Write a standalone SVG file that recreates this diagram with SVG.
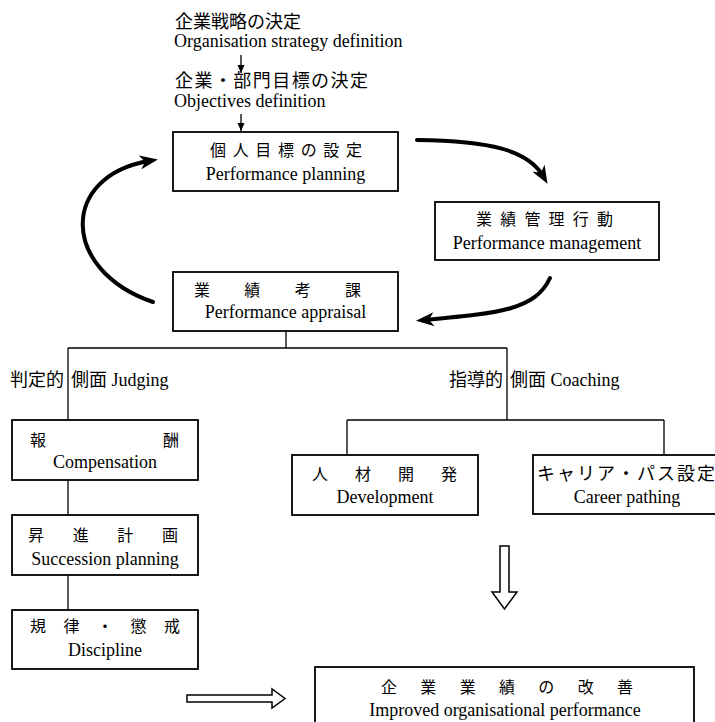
<svg xmlns="http://www.w3.org/2000/svg" width="715" height="722" viewBox="0 0 715 722">
<style>
text{font-family:"Liberation Serif","Noto Sans CJK JP",serif;fill:#000}
.jt{font-size:18px}
.jp{font-size:16px}
.en{font-size:18px}
.mid{text-anchor:middle}
.box{fill:#fff;stroke:#000;stroke-width:1.8}
.ln{fill:none;stroke:#000;stroke-width:1.3}
.thick{fill:none;stroke:#000;stroke-width:4;stroke-linecap:round}
.hollow{fill:#fff;stroke:#000;stroke-width:1.5}
</style>
<defs>
<marker id="big" markerUnits="userSpaceOnUse" markerWidth="18" markerHeight="14" refX="9" refY="7" orient="auto"><path d="M0,0 L18,7 L0,14 L5,7 z" fill="#000"/></marker>
<marker id="small" markerUnits="userSpaceOnUse" markerWidth="8" markerHeight="8" refX="8" refY="3.5" orient="auto"><path d="M0,0 L8,3.5 L0,7 z" fill="#000"/></marker>
</defs>
<rect width="715" height="722" fill="#fff"/>

<g id="connectors">
<path class="ln" d="M241,55 V73" marker-end="url(#small)"/>
<path class="ln" d="M241,114 V131" marker-end="url(#small)"/>
<path class="thick" d="M417,140 C490,141 528,150 543,176" marker-end="url(#big)"/>
<path class="thick" d="M550,278 C535,310 500,313 425,320" marker-end="url(#big)"/>
<path class="thick" d="M153,302 C60,270 60,176 149,161" marker-end="url(#big)"/>
<path class="ln" d="M286,331 V348 M68,348 H507 M68,348 V420 M507,348 V420 M347,420 H664 M347,420 V455 M664,420 V455 M68,480 V515 M68,575 V610"/>
<polygon class="hollow" points="500,546 509,546 509,592 517,592 504.5,609 492,592 500,592"/>
<polygon class="hollow" points="187,695 272,695 272,689 285,698.5 272,708 272,702 187,702"/>
</g>

<g id="n-strategy">
<text class="jt" x="175" y="28">企業戦略の決定</text>
<text class="en" x="174" y="47">Organisation strategy definition</text>
</g>
<g id="n-objectives">
<text class="jt" x="175" y="87" textLength="193" lengthAdjust="spacing">企業・部門目標の決定</text>
<text class="en" x="174" y="107">Objectives definition</text>
</g>

<g id="n-planning">
<rect class="box" x="173" y="132" width="225" height="59"/>
<text class="jp" x="210" y="156" textLength="152" lengthAdjust="spacing">個人目標の設定</text>
<text class="en mid" x="285.5" y="180">Performance planning</text>
</g>

<g id="n-management">
<rect class="box" x="435" y="202" width="224" height="58"/>
<text class="jp" x="476" y="225" textLength="137" lengthAdjust="spacing">業績管理行動</text>
<text class="en mid" x="547" y="249">Performance management</text>
</g>

<g id="n-appraisal">
<rect class="box" x="173" y="272" width="225" height="59"/>
<text class="jp" x="194" y="296" textLength="167" lengthAdjust="spacing">業績考課</text>
<text class="en mid" x="285.5" y="318">Performance appraisal</text>
</g>

<g id="n-judging">
<text class="en" x="10" y="386">判定的<tspan x="71">側面 Judging</tspan></text>
</g>
<g id="n-coaching">
<text class="en" x="449" y="386">指導的<tspan x="510">側面 Coaching</tspan></text>
</g>

<g id="n-compensation">
<rect class="box" x="12" y="420" width="186" height="60"/>
<text class="jp" x="30" y="446">報</text>
<text class="jp" x="163" y="446">酬</text>
<text class="en mid" x="105" y="468">Compensation</text>
</g>

<g id="n-succession">
<rect class="box" x="12" y="515" width="186" height="60"/>
<text class="jp" x="28" y="541" textLength="150" lengthAdjust="spacing">昇進計画</text>
<text class="en mid" x="105" y="565">Succession planning</text>
</g>

<g id="n-discipline">
<rect class="box" x="12" y="610" width="186" height="59"/>
<text class="jp" x="30" y="632" textLength="150" lengthAdjust="spacing">規律・懲戒</text>
<text class="en mid" x="105" y="656">Discipline</text>
</g>

<g id="n-development">
<rect class="box" x="292" y="455" width="186" height="60"/>
<text class="jp" x="312" y="480" textLength="145" lengthAdjust="spacing">人材開発</text>
<text class="en mid" x="385" y="503">Development</text>
</g>

<g id="n-career">
<rect class="box" x="533" y="455" width="190" height="59"/>
<text class="jt" x="537" y="480" textLength="178" lengthAdjust="spacing">キャリア・パス設定</text>
<text class="en mid" x="627" y="503">Career pathing</text>
</g>

<g id="n-improved">
<rect class="box" x="315" y="667" width="379" height="70"/>
<text class="jp" x="381" y="693" textLength="252" lengthAdjust="spacing">企業業績の改善</text>
<text class="en mid" x="505" y="716">Improved organisational performance</text>
</g>
</svg>
